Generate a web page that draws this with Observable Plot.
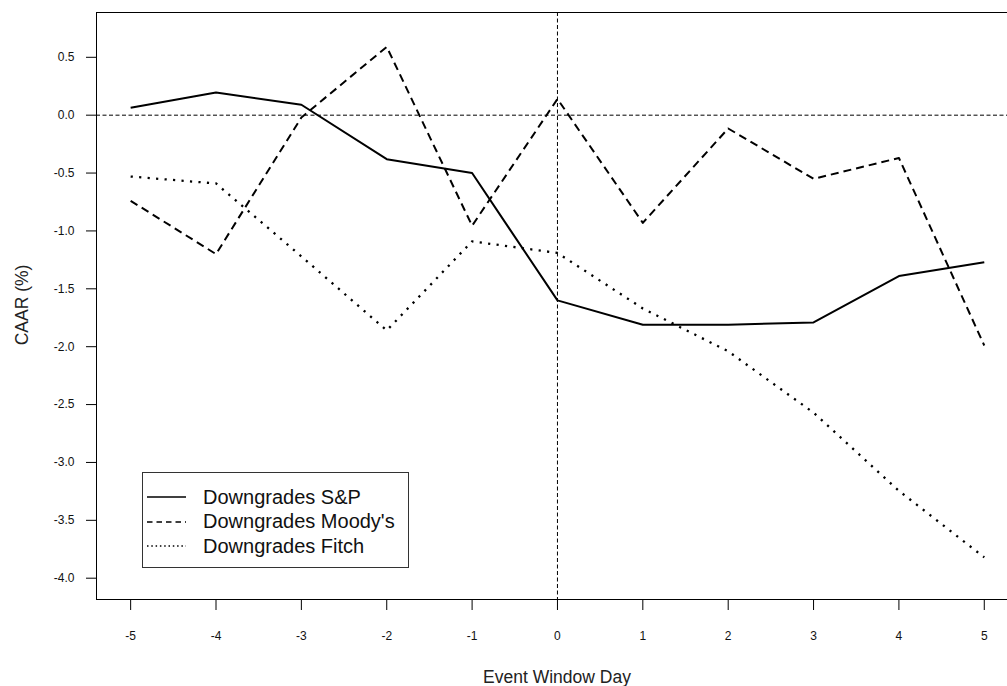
<!DOCTYPE html>
<html>
<head>
<meta charset="utf-8">
<script src="https://cdn.jsdelivr.net/npm/d3@7"></script>
<script src="https://cdn.jsdelivr.net/npm/@observablehq/plot@0.6"></script>
<style>
  html, body { margin: 0; padding: 0; background: #fff; overflow: hidden; }
  #wrap { position: relative; width: 1007px; height: 686px; overflow: hidden; font-family: "Liberation Sans", Arial, sans-serif; color: #111; }
  #wrap > svg { overflow: hidden !important; }
  .ytitle { position: absolute; left: 22px; top: 305px; transform: translate(-50%, -50%) rotate(-90deg); font-size: 17.5px; white-space: nowrap; color: #222; }
  .xtitle { position: absolute; left: 557px; top: 677px; transform: translate(-50%, -50%); font-size: 17.5px; white-space: nowrap; color: #222; }
  .legend { position: absolute; left: 142px; top: 472px; width: 267px; height: 96px; border: 1px solid #333; box-sizing: border-box; background: #fff; padding-top: 12px; }
  .row { display: flex; align-items: center; height: 24.5px; }
  .row svg { margin-left: 4px; width: 40px; height: 10px; }
  .row span { margin-left: 16px; font-size: 20px; color: #111; }
</style>
</head>
<body>
<div id="wrap"></div>
<script>
// Event window days
const days = [-5, -4, -3, -2, -1, 0, 1, 2, 3, 4, 5];
// CAAR (%) series
const spValues     = [0.064, 0.196, 0.09, -0.38, -0.50, -1.60, -1.81, -1.81, -1.79, -1.39, -1.27];
const moodysValues = [-0.74, -1.20, -0.02, 0.59, -0.955, 0.14, -0.93, -0.115, -0.55, -0.37, -1.99];
const fitchValues  = [-0.53, -0.59, -1.22, -1.86, -1.09, -1.19, -1.67, -2.04, -2.57, -3.245, -3.82];
// Series names
const seriesNames = ["Downgrades S&P", "Downgrades Moody's", "Downgrades Fitch"];
// Tick values
const xTicks = [-5, -4, -3, -2, -1, 0, 1, 2, 3, 4, 5];
const yTicks = [-4.0, -3.5, -3.0, -2.5, -2.0, -1.5, -1.0, -0.5, 0.0, 0.5];
// Axis titles
const xTitle = "Event Window Day";
const yTitle = "CAAR (%)";

const seriesValues = [spValues, moodysValues, fitchValues];
const dashes = [null, "8 5", "2.2 6.3"];
const widths = [2, 2, 2.3];
const legendDashes = [null, "5.5 4", "1.5 2.8"];

const table = [];
seriesNames.forEach((name, i) => {
  days.forEach((d, j) => table.push({series: name, day: d, value: seriesValues[i][j]}));
});

const lineMarks = seriesNames.map((name, i) =>
  Plot.line(table.filter(r => r.series === name), {
    x: "day", y: "value", stroke: "black", strokeWidth: widths[i],
    strokeDasharray: dashes[i], strokeLinejoin: "round", strokeLinecap: "butt"
  })
);

const chart = Plot.plot({
  width: 1007,
  height: 686,
  marginLeft: 96,
  marginRight: 0,
  marginTop: 12,
  marginBottom: 87,
  style: {fontFamily: "Liberation Sans, Arial, sans-serif", fontSize: "12px", background: "white", color: "#111", overflow: "hidden"},
  x: {domain: [-5.4, 5.272]},
  y: {domain: [-4.184, 0.887]},
  marks: [
    Plot.ruleY([0], {stroke: "black", strokeWidth: 1, strokeDasharray: "4 2.5"}),
    Plot.ruleX([0], {stroke: "black", strokeWidth: 1, strokeDasharray: "4 2.5"}),
    ...lineMarks,
    Plot.frame({stroke: "black", strokeWidth: 1, insetRight: -4}),
    Plot.axisY({ticks: yTicks, tickSize: 10, tickPadding: 12, tickFormat: d => d.toFixed(1), label: null, stroke: "black", fill: "#111", fontSize: 12}),
    Plot.axisX({ticks: xTicks, tickSize: 11, tickPadding: 21, tickFormat: d => String(d), label: null, stroke: "black", fill: "#111", fontSize: 12})
  ]
});

const wrap = document.getElementById("wrap");
wrap.appendChild(chart);
chart.style.overflow = "hidden";

const yt = document.createElement("div");
yt.className = "ytitle"; yt.textContent = yTitle; wrap.appendChild(yt);
const xt = document.createElement("div");
xt.className = "xtitle"; xt.textContent = xTitle; wrap.appendChild(xt);

const legend = document.createElement("div");
legend.className = "legend";
seriesNames.forEach((name, i) => {
  const row = document.createElement("div");
  row.className = "row";
  const ns = "http://www.w3.org/2000/svg";
  const s = document.createElementNS(ns, "svg");
  s.setAttribute("width", "40"); s.setAttribute("height", "10");
  const l = document.createElementNS(ns, "line");
  l.setAttribute("x1", "0"); l.setAttribute("x2", "39");
  l.setAttribute("y1", "5"); l.setAttribute("y2", "5");
  l.setAttribute("stroke", "black"); l.setAttribute("stroke-width", "1.3");
  if (legendDashes[i]) l.setAttribute("stroke-dasharray", legendDashes[i]);
  s.appendChild(l);
  row.appendChild(s);
  const t = document.createElement("span");
  t.textContent = name;
  row.appendChild(t);
  legend.appendChild(row);
});
wrap.appendChild(legend);
</script>
</body>
</html>
